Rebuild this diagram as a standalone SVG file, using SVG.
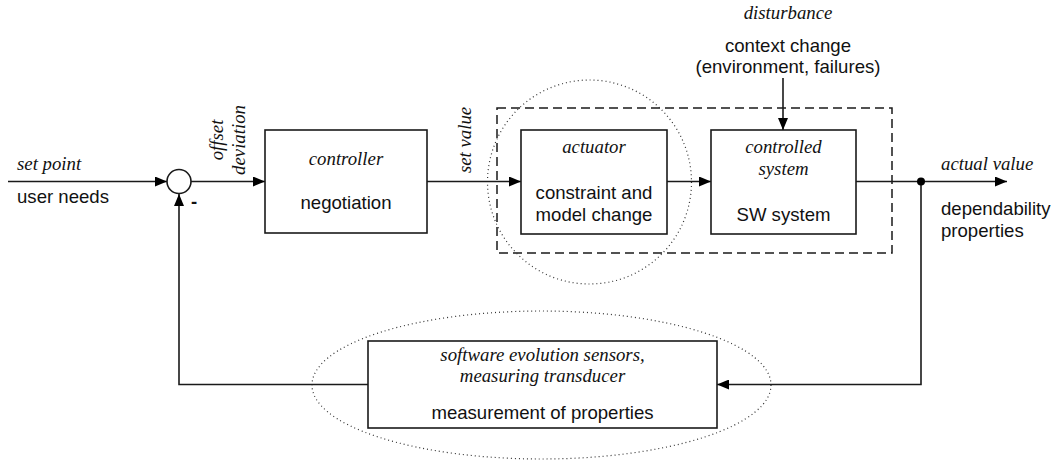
<svg xmlns="http://www.w3.org/2000/svg" width="1052" height="461" viewBox="0 0 1052 461">
<style>
.box{fill:#fff;stroke:#1a1a1a;stroke-width:1.6}
.ln{fill:none;stroke:#1a1a1a;stroke-width:1.6}
.dash{fill:none;stroke:#1a1a1a;stroke-width:1.5;stroke-dasharray:9,5}
.dot{fill:none;stroke:#333;stroke-width:1.2;stroke-dasharray:1,3}
.it{font-family:"Liberation Serif","Times New Roman",serif;font-style:italic;font-size:18.8px;fill:#111}
.sn{font-family:"Liberation Sans",Arial,sans-serif;font-size:18.6px;fill:#111}
.c{text-anchor:middle}
</style>
<defs>
<marker id="ah" markerWidth="12" markerHeight="10" refX="12" refY="5" orient="auto" markerUnits="userSpaceOnUse">
<path d="M0,0 L12,5 L0,10 Z" fill="#000"/>
</marker>
</defs>
<rect id="dashed-frame" class="dash" x="497" y="108" width="395" height="145"/>
<circle id="actuator-highlight" class="dot" cx="589.5" cy="182" r="102"/>
<ellipse id="sensor-highlight" class="dot" cx="541.5" cy="385" rx="229.5" ry="74"/>
<g id="connectors">
<line class="ln" x1="8" y1="181.5" x2="167" y2="181.5" marker-end="url(#ah)"/>
<line class="ln" x1="191" y1="181.5" x2="265" y2="181.5" marker-end="url(#ah)"/>
<line class="ln" x1="427" y1="181.5" x2="521" y2="181.5" marker-end="url(#ah)"/>
<line class="ln" x1="667" y1="181.5" x2="711" y2="181.5" marker-end="url(#ah)"/>
<line class="ln" x1="856" y1="181.5" x2="1007" y2="181.5" marker-end="url(#ah)"/>
<line class="ln" x1="783" y1="78" x2="783" y2="130" marker-end="url(#ah)"/>
<polyline class="ln" points="921,181.5 921,384.5 717,384.5" marker-end="url(#ah)"/>
<polyline class="ln" points="368,384.5 179,384.5 179,194" marker-end="url(#ah)"/>
<circle cx="921" cy="181.5" r="4" fill="#000"/>
</g>
<g id="summing-point">
<circle class="box" cx="179" cy="181.5" r="12"/>
<text class="sn" x="191" y="208" font-weight="bold">-</text>
</g>
<g id="set-point">
<text class="it" x="17" y="170">set point</text>
<text class="sn" x="17" y="203">user needs</text>
</g>
<g id="offset-label">
<text class="it c" transform="translate(223,140) rotate(-90)">offset</text>
<text class="it c" transform="translate(245,140) rotate(-90)">deviation</text>
</g>
<g id="controller">
<rect class="box" x="265" y="130" width="162" height="103"/>
<text class="it c" x="346" y="165">controller</text>
<text class="sn c" x="346" y="209">negotiation</text>
</g>
<g id="set-value-label">
<text class="it c" transform="translate(471,140) rotate(-90)">set value</text>
</g>
<g id="actuator">
<rect class="box" x="521" y="130" width="146" height="104"/>
<text class="it c" x="594" y="153">actuator</text>
<text class="sn c" x="594" y="199">constraint and</text>
<text class="sn c" x="594" y="221">model change</text>
</g>
<g id="controlled-system">
<rect class="box" x="711" y="130" width="145" height="104"/>
<text class="it c" x="783.5" y="153">controlled</text>
<text class="it c" x="783.5" y="175">system</text>
<text class="sn c" x="783.5" y="221">SW system</text>
</g>
<g id="disturbance">
<text class="it c" x="788" y="19">disturbance</text>
<text class="sn c" x="788" y="52">context change</text>
<text class="sn c" x="788" y="73">(environment, failures)</text>
</g>
<g id="actual-value">
<text class="it" x="941" y="170">actual value</text>
<text class="sn" x="941" y="215">dependability</text>
<text class="sn" x="941" y="237">properties</text>
</g>
<g id="sensors">
<rect class="box" x="368" y="341" width="349" height="87"/>
<text class="it c" x="542.5" y="361">software evolution sensors,</text>
<text class="it c" x="542.5" y="382">measuring transducer</text>
<text class="sn c" x="542.5" y="419">measurement of properties</text>
</g>
</svg>
